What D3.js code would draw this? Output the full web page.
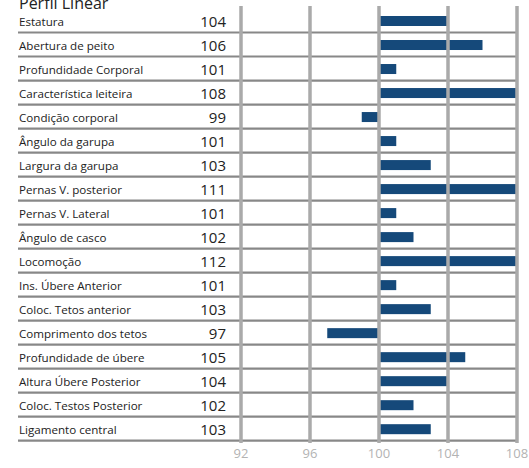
<!DOCTYPE html>
<html>
<head>
<meta charset="utf-8">
<script src="https://cdn.jsdelivr.net/npm/d3@7"></script>
<style>
  body { margin: 0; background: #fff; }
  text { font-family: "Open Sans", "Noto Sans", sans-serif; }
</style>
</head>
<body>
<script>
// dados do perfil linear
var traits = ["Estatura", "Abertura de peito", "Profundidade Corporal", "Característica leiteira",
  "Condição corporal", "Ângulo da garupa", "Largura da garupa", "Pernas V. posterior",
  "Pernas V. Lateral", "Ângulo de casco", "Locomoção", "Ins. Úbere Anterior",
  "Coloc. Tetos anterior", "Comprimento dos tetos", "Profundidade de úbere",
  "Altura Úbere Posterior", "Coloc. Testos Posterior", "Ligamento central"];
var values = [104, 106, 101, 108, 99, 101, 103, 111, 101, 102, 112, 101, 103, 97, 105, 104, 102, 103];
var ticks = [92, 96, 100, 104, 108];
var title = "Perfil Linear";

var width = 529, height = 468;
var barColor = "#15497a";

var svg = d3.select("body").append("svg")
  .attr("width", width)
  .attr("height", height);

var x = d3.scaleLinear().domain([92, 108]).range([241, 517]);
var y = d3.scaleBand().domain(traits).range([8.5, 440.7]);

var rows = traits.map(function(t, i) { return { name: t, value: values[i] }; });

svg.append("text")
  .attr("x", 19)
  .attr("y", 9)
  .attr("font-size", 16)
  .attr("fill", "#222")
  .text(title);

// separadores
svg.selectAll(".sep")
  .data(rows)
  .enter().append("line")
  .attr("class", "sep")
  .attr("x1", 18)
  .attr("x2", x(108))
  .attr("y1", function(d) { return y(d.name) + y.bandwidth(); })
  .attr("y2", function(d) { return y(d.name) + y.bandwidth(); })
  .attr("stroke", "#888")
  .attr("stroke-width", 2.2);

// barras (cortadas no limite do eixo)
svg.selectAll(".bar")
  .data(rows)
  .enter().append("rect")
  .attr("class", "bar")
  .attr("x", function(d) { return d.value >= 100 ? x(100) : x(Math.max(d.value, 92)); })
  .attr("width", function(d) {
    var v = Math.min(Math.max(d.value, 92), 108);
    return Math.abs(x(v) - x(100));
  })
  .attr("y", function(d) { return y(d.name) + 7.5; })
  .attr("height", 10)
  .attr("fill", barColor);

// linhas de grade verticais
svg.selectAll(".grid")
  .data(ticks)
  .enter().append("line")
  .attr("class", "grid")
  .attr("x1", function(d) { return x(d); })
  .attr("x2", function(d) { return x(d); })
  .attr("y1", 6)
  .attr("y2", 443)
  .attr("stroke", "#aaa")
  .attr("stroke-width", 3.5);

svg.selectAll(".tick")
  .data(ticks)
  .enter().append("text")
  .attr("class", "tick")
  .attr("x", function(d) { return x(d); })
  .attr("y", 458)
  .attr("text-anchor", "middle")
  .attr("font-size", 13)
  .attr("fill", "#b3b3b3")
  .text(function(d) { return d; });

svg.selectAll(".label")
  .data(rows)
  .enter().append("text")
  .attr("class", "label")
  .attr("x", 19)
  .attr("y", function(d) { return y(d.name) + 17.5; })
  .attr("font-size", 11.6)
  .attr("fill", "#222")
  .text(function(d) { return d.name; });

svg.selectAll(".val")
  .data(rows)
  .enter().append("text")
  .attr("class", "val")
  .attr("x", 226)
  .attr("y", function(d) { return y(d.name) + 18; })
  .attr("text-anchor", "end")
  .attr("font-size", 15)
  .attr("fill", "#222")
  .text(function(d) { return d.value; });
</script>
</body>
</html>
